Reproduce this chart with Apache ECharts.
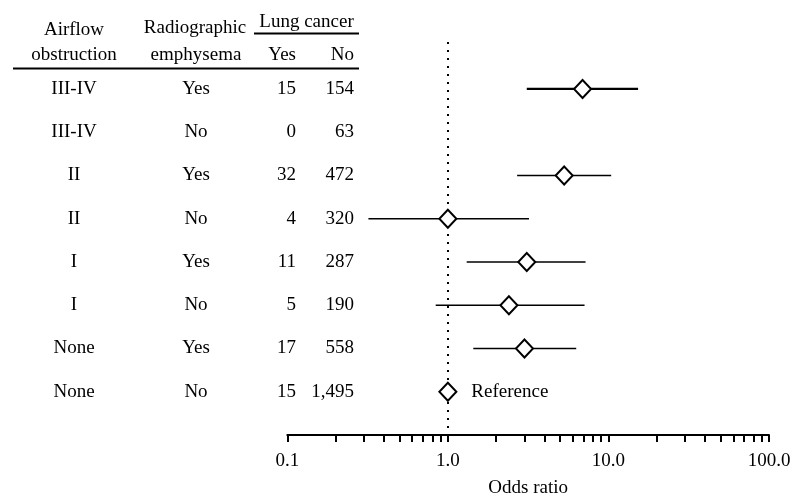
<!DOCTYPE html>
<html>
<head>
<meta charset="utf-8">
<script src="https://cdn.jsdelivr.net/npm/echarts@6/dist/echarts.min.js"></script>
<style>
html,body{margin:0;padding:0;background:#fff;}
#chart{width:807px;height:496px;}
</style>
</head>
<body>
<div id="chart"></div>
<script>
// ---- data ----
const airflow = ['III-IV', 'III-IV', 'II', 'II', 'I', 'I', 'None', 'None'];
const emphysema = ['Yes', 'No', 'Yes', 'No', 'Yes', 'No', 'Yes', 'No'];
const cancerYes = [15, 0, 32, 4, 11, 5, 17, 15];
const cancerNo = [154, 63, 472, 320, 287, 190, 558, 1495];
const oddsRatio = [6.9, null, 5.3, 1.0, 3.1, 2.4, 3.0, 1.0];
const ciLower = [3.1, null, 2.7, 0.32, 1.31, 0.84, 1.44, null];
const ciUpper = [15.3, null, 10.4, 3.2, 7.2, 7.1, 6.3, null];
const referenceRow = 7;
const referenceText = 'Reference';
const xTickValues = [0.1, 0.2, 0.3, 0.4, 0.5, 0.6, 0.7, 0.8, 0.9, 1, 2, 3, 4, 5, 6, 7, 8, 9, 10, 20, 30, 40, 50, 60, 70, 80, 90, 100];
const xLabelValues = [0.1, 1, 10, 100];
const headerTop = ['Airflow', 'Radiographic', 'Lung cancer'];
const headerBottom = ['obstruction', 'emphysema', 'Yes', 'No'];
const xAxisName = 'Odds ratio';

// ---- layout ----
const FONT = '"Liberation Serif", "Times New Roman", serif';
const FS = 19;
const colAirflow = 74;
const colEmph = 196;
const colYes = 296;
const colNo = 354;

const rowIdx = airflow.map((_, i) => i);

const chart = echarts.init(document.getElementById('chart'), null, {renderer: 'canvas'});

const tableSeries = {
  type: 'custom',
  clip: false,
  silent: true,
  data: rowIdx.map(i => [1, i]),
  encode: {x: 0, y: 1},
  renderItem: function (params, api) {
    const i = api.value(1);
    const y = api.coord([1, i])[1];
    const st = (t, x, align) => ({
      type: 'text',
      style: {text: t, x: x, y: y, align: align, verticalAlign: 'middle', font: FS + 'px ' + FONT, fill: '#000'}
    });
    return {
      type: 'group',
      children: [
        st(airflow[i], colAirflow, 'center'),
        st(emphysema[i], colEmph, 'center'),
        st(String(cancerYes[i]), colYes, 'right'),
        st(cancerNo[i].toLocaleString('en-US'), colNo, 'right')
      ]
    };
  },
  z: 1
};

const ciSeries = {
  type: 'custom',
  silent: true,
  clip: false,
  data: rowIdx.filter(i => ciLower[i] != null).map(i => [ciLower[i], ciUpper[i], i]),
  encode: {x: [0, 1], y: 2},
  renderItem: function (params, api) {
    const p1 = api.coord([api.value(0), api.value(2)]);
    const p2 = api.coord([api.value(1), api.value(2)]);
    return {
      type: 'line',
      shape: {x1: p1[0], y1: p1[1], x2: p2[0], y2: p2[1]},
      style: {stroke: '#000', lineWidth: api.value(2) === 0 ? 2.2 : 1.6}
    };
  },
  z: 3
};

const pointSeries = {
  type: 'scatter',
  silent: true,
  symbol: 'diamond',
  symbolSize: [17, 18],
  itemStyle: {color: '#fff', borderColor: '#000', borderWidth: 2, opacity: 1},
  data: rowIdx.filter(i => oddsRatio[i] != null).map(i => {
    const d = {value: [oddsRatio[i], i]};
    if (i === referenceRow) {
      d.label = {
        show: true, position: 'right', distance: 14, formatter: referenceText,
        fontFamily: FONT, fontSize: FS, color: '#000'
      };
    }
    return d;
  }),
  markLine: {
    silent: true,
    symbol: 'none',
    label: {show: false},
    lineStyle: {color: '#000', type: [2, 6], width: 2},
    data: [{xAxis: 1}],
    animation: false
  },
  z: 5
};

const option = {
  animation: false,
  backgroundColor: '#fff',
  grid: {left: 287.3, right: 38, top: 42, bottom: 61, containLabel: false, outerBoundsMode: 'none'},
  xAxis: {
    type: 'log',
    logBase: 10,
    min: 0.1,
    max: 100,
    name: xAxisName,
    nameLocation: 'middle',
    nameGap: 44,
    nameTextStyle: {fontFamily: FONT, fontSize: FS, color: '#000'},
    axisLine: {show: true, onZero: false, lineStyle: {color: '#000', width: 2}},
    axisTick: {show: true, inside: false, length: 7, customValues: xTickValues, lineStyle: {color: '#000', width: 2}},
    minorTick: {show: false},
    axisLabel: {
      customValues: xLabelValues,
      formatter: v => Number(v).toFixed(1),
      margin: 17,
      fontFamily: FONT, fontSize: FS, color: '#000'
    },
    splitLine: {show: false}
  },
  yAxis: {
    type: 'value',
    inverse: true,
    min: -1.086,
    max: 8,
    show: false
  },
  graphic: {
    elements: [
      {type: 'text', x: colAirflow, y: 30, style: {text: headerTop[0], align: 'center', verticalAlign: 'middle', font: FS + 'px ' + FONT, fill: '#000'}},
      {type: 'text', x: colEmph - 1, y: 28, style: {text: headerTop[1], align: 'center', verticalAlign: 'middle', font: FS + 'px ' + FONT, fill: '#000'}},
      {type: 'text', x: 306.5, y: 22, style: {text: headerTop[2], align: 'center', verticalAlign: 'middle', font: FS + 'px ' + FONT, fill: '#000'}},
      {type: 'text', x: colAirflow, y: 55, style: {text: headerBottom[0], align: 'center', verticalAlign: 'middle', font: FS + 'px ' + FONT, fill: '#000'}},
      {type: 'text', x: colEmph, y: 55, style: {text: headerBottom[1], align: 'center', verticalAlign: 'middle', font: FS + 'px ' + FONT, fill: '#000'}},
      {type: 'text', x: colYes, y: 55, style: {text: headerBottom[2], align: 'right', verticalAlign: 'middle', font: FS + 'px ' + FONT, fill: '#000'}},
      {type: 'text', x: colNo, y: 55, style: {text: headerBottom[3], align: 'right', verticalAlign: 'middle', font: FS + 'px ' + FONT, fill: '#000'}},
      {type: 'line', shape: {x1: 254, y1: 33.5, x2: 359, y2: 33.5}, style: {stroke: '#000', lineWidth: 2}},
      {type: 'line', shape: {x1: 13, y1: 68.5, x2: 359, y2: 68.5}, style: {stroke: '#000', lineWidth: 2}}
    ]
  },
  series: [tableSeries, ciSeries, pointSeries]
};

chart.setOption(option);
</script>
</body>
</html>
